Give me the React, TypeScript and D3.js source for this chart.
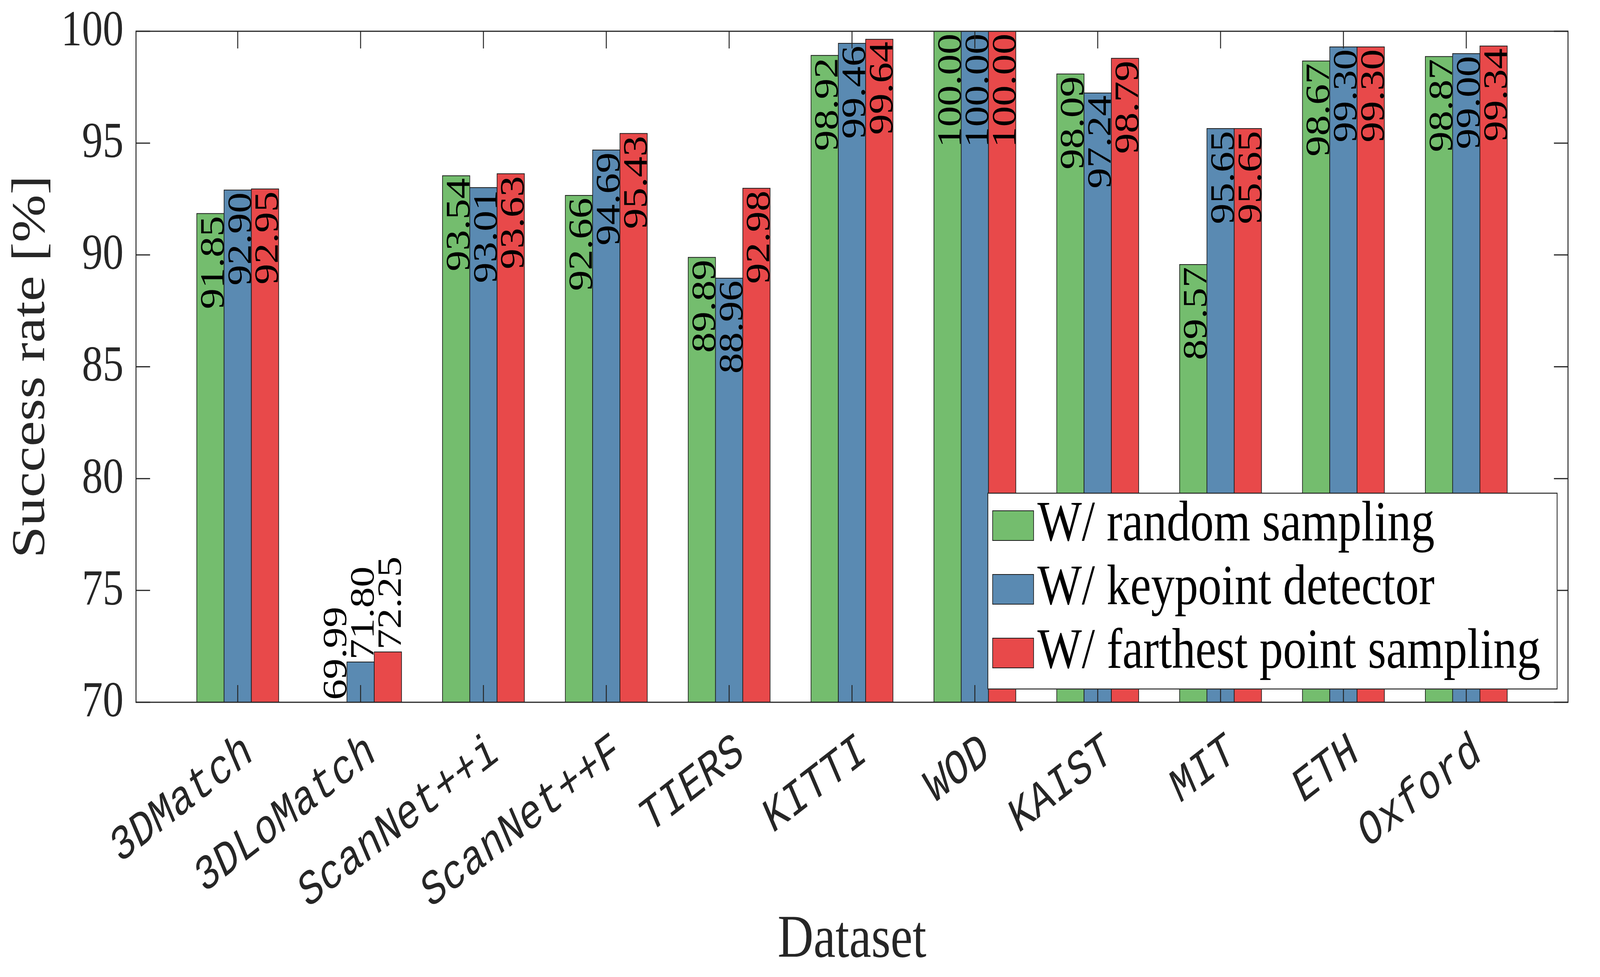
import React, { useEffect } from 'react';
import { scaleLinear, range } from 'd3';

// chart data
const categories = ['3DMatch', '3DLoMatch', 'ScanNet++i', 'ScanNet++F', 'TIERS', 'KITTI', 'WOD', 'KAIST', 'MIT', 'ETH', 'Oxford'];
const randomSampling = [91.85, 69.99, 93.54, 92.66, 89.89, 98.92, 100.0, 98.09, 89.57, 98.67, 98.87];
const keypointDetector = [92.9, 71.8, 93.01, 94.69, 88.96, 99.46, 100.0, 97.24, 95.65, 99.3, 99.0];
const farthestPoint = [92.95, 72.25, 93.63, 95.43, 92.98, 99.64, 100.0, 98.79, 95.65, 99.3, 99.34];
const seriesNames = ['W/ random sampling', 'W/ keypoint detector', 'W/ farthest point sampling'];
const yTicks = [70, 75, 80, 85, 90, 95, 100];

const colors = ['#74BD6E', '#5A8AB2', '#E8494A'];
const ink = '#262626';
const serif = '"Liberation Serif", "Times New Roman", serif';
const mono = '"Liberation Mono", "DejaVu Sans Mono", monospace';

// drawing space = the 5000x2500 figure, stretched onto whatever the window is
const W = 5000;
const H = 2500;
const margin = { top: 80, right: 100, bottom: 703, left: 425 };

export default function App() {
  useEffect(() => {
    document.body.style.margin = '0';
    document.body.style.overflow = 'hidden';
  }, []);

  const series = [randomSampling, keypointDetector, farthestPoint];
  const x0 = margin.left;
  const x1 = W - margin.right;
  const yTop = margin.top;
  const yBot = H - margin.bottom;

  const x = scaleLinear().domain([0.172, categories.length + 0.828]).range([x0, x1]);
  const y = scaleLinear().domain([70, 100]).range([yBot, yTop]);
  const barW = x(1 + 2 / 9) - x(1); // matlab grouped bar width
  const tickLen = 44;
  const labelFs = 106;

  const clamp = (v: number) => Math.max(70, Math.min(100, v));

  return (
    <svg
      viewBox={`0 0 ${W} ${H}`}
      preserveAspectRatio="none"
      style={{ position: 'fixed', left: 0, top: 0, width: '100vw', height: '100vh', display: 'block', background: '#fff' }}
    >
      <defs>
        <clipPath id="plot">
          <rect x={x0} y={yTop} width={x1 - x0} height={yBot - yTop} />
        </clipPath>
      </defs>

      {/* bars */}
      <g clipPath="url(#plot)">
        {series.map((vals, s) =>
          vals.map((v, i) => {
            if (v <= 70) return null;
            const cx = x(i + 1) + (s - 1) * barW;
            return (
              <rect
                key={`b${s}-${i}`}
                x={cx - barW / 2}
                y={y(clamp(v))}
                width={barW}
                height={yBot - y(clamp(v))}
                fill={colors[s]}
                stroke="#1a1a1a"
                strokeWidth={2}
              />
            );
          })
        )}
      </g>

      {/* value labels, rotated; short bars get the label above */}
      {series.map((vals, s) =>
        vals.map((v, i) => {
          const cx = x(i + 1) + (s - 1) * barW;
          const top = y(clamp(v));
          const txtLen = labelFs * 2.25;
          const inside = yBot - top > txtLen + 20;
          const ty = inside ? top + 6 : top - 6;
          return (
            <text
              key={`l${s}-${i}`}
              transform={`translate(${cx + 0.38 * labelFs},${ty}) rotate(-90)`}
              textAnchor={inside ? 'end' : 'start'}
              fontFamily={serif}
              fontSize={labelFs}
              fill="#000"
            >
              {v.toFixed(2)}
            </text>
          );
        })
      )}

      {/* axes box and ticks */}
      <g stroke={ink} strokeWidth={3} fill="none">
        <rect x={x0} y={yTop} width={x1 - x0} height={yBot - yTop} />
        {yTicks.map((t) => (
          <g key={`yt${t}`}>
            <line x1={x0} x2={x0 + tickLen} y1={y(t)} y2={y(t)} />
            <line x1={x1} x2={x1 - tickLen} y1={y(t)} y2={y(t)} />
          </g>
        ))}
        {range(1, categories.length + 1).map((c) => (
          <g key={`xt${c}`}>
            <line x1={x(c)} x2={x(c)} y1={yBot} y2={yBot - tickLen} />
            <line x1={x(c)} x2={x(c)} y1={yTop} y2={yTop + tickLen} />
          </g>
        ))}
      </g>

      {/* y tick labels */}
      {yTicks.map((t) => (
        <text key={`yl${t}`} x={x0 - 39} y={y(t) + 36} textAnchor="end" fontFamily={serif} fontSize={130} fill={ink}>
          {t}
        </text>
      ))}

      {/* x tick labels */}
      {categories.map((c, i) => (
        <text
          key={`xl${c}`}
          transform={`translate(${x(i + 1) + 52},${yBot + 145}) scale(1,1.1) rotate(-30)`}
          textAnchor="end"
          fontFamily={mono}
          fontSize={116}
          fill={ink}
        >
          {c}
        </text>
      ))}

      {/* axis titles */}
      <text
        transform={`translate(138,${(yTop + yBot) / 2}) rotate(-90)`}
        textAnchor="middle"
        fontFamily={serif}
        fontSize={147}
        fill={ink}
      >
        Success rate [%]
      </text>
      <text x={(x0 + x1) / 2} y={2448} textAnchor="middle" fontFamily={serif} fontSize={155} fill={ink}>
        Dataset
      </text>

      {/* legend */}
      <g>
        <rect x={3087} y={1262} width={4866 - 3087} height={1763 - 1262} fill="#fff" stroke={ink} strokeWidth={2.5} />
        {seriesNames.map((name, s) => {
          const base = 1383 + s * 163;
          return (
            <g key={`lg${s}`}>
              <rect x={3102} y={base - 76} width={128} height={76} fill={colors[s]} stroke="#1a1a1a" strokeWidth={2} />
              <text x={3242} y={base} fontFamily={serif} fontSize={147} fill="#000">
                {name}
              </text>
            </g>
          );
        })}
      </g>
    </svg>
  );
}
